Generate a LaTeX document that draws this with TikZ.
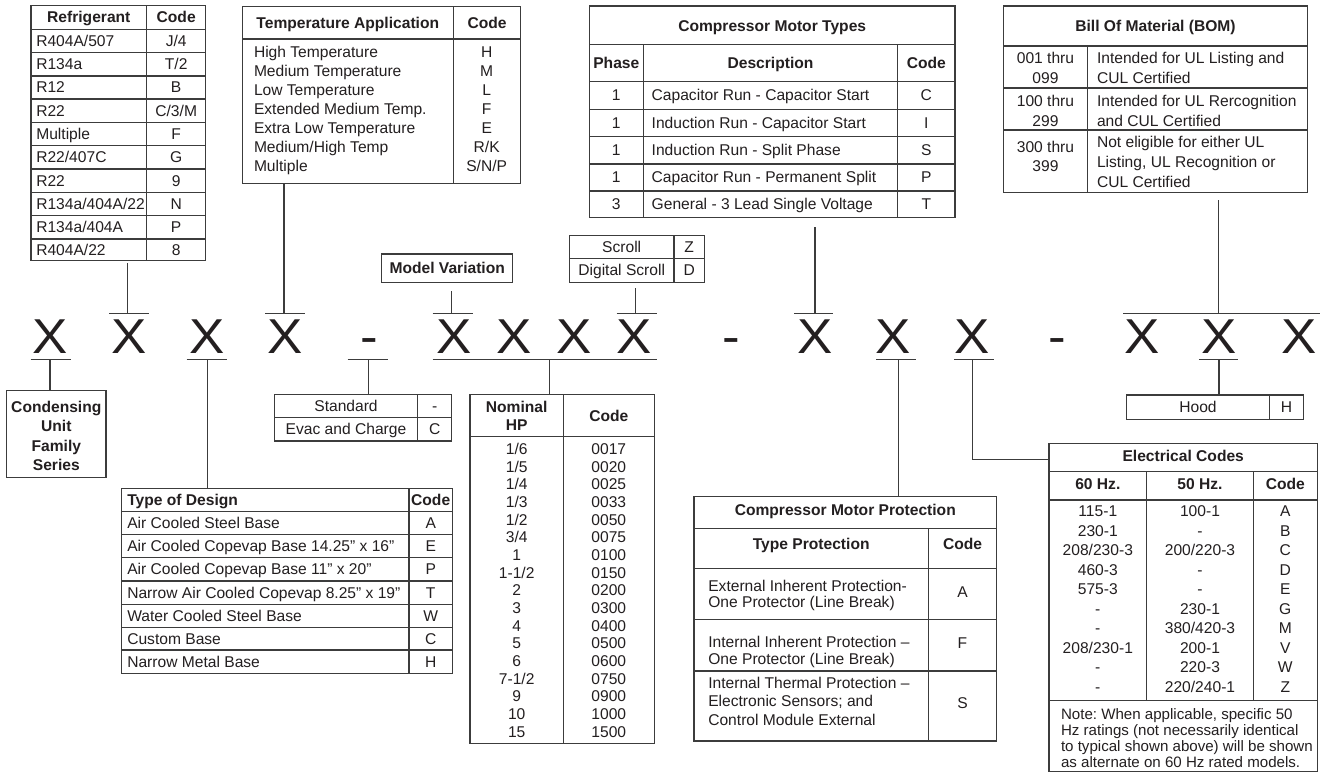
\documentclass[tikz,border=0pt]{standalone}
\usepackage{fontspec}
\setmainfont{Liberation Sans}
\newfontfamily\xfont[FakeStretch=1.08]{Liberation Sans}
\newcommand\fs{\fontsize{15.6}{17}\selectfont}
\newcommand\fn{\fontsize{15.1}{17}\selectfont}
\newcommand\fb{\fontsize{15.6}{17}\selectfont\bfseries}
\newcommand\fx{\xfont\fontsize{49}{49}\selectfont}
\definecolor{ink}{HTML}{231F20}
\definecolor{lc}{HTML}{3C3C3C}
\frenchspacing
\tikzset{
  ln/.style={draw=lc, line width=1.3pt},
  tbl/.style 2 args={ln, rectangle, inner sep=0pt, outer sep=0pt, minimum width=#1, minimum height=#2, anchor=north west},
  tx/.style={inner sep=0pt, outer sep=0pt, text=ink, font=\fs, anchor=base},
  txl/.style={tx, anchor=base west},
  ntx/.style={txl, font=\fn},
  bx/.style={tx, font=\fb},
  bxl/.style={bx, anchor=base west},
  xl/.style={inner sep=0pt, outer sep=0pt, text=ink, font=\fx, anchor=base},
}
\begin{document}
\begin{tikzpicture}[x=1pt,y=-1pt]
\useasboundingbox (0,0) rectangle (1323,783);
\fill[white] (0,0) rectangle (1323,783);

% ---------------- Refrigerant
\node[tbl={174.7pt}{255pt}] (ref) at (31,5.7) {};
\draw[ln] (146.7,5.7) -- (146.7,260.7);
\foreach \y in {29.3,52.3,76,99,122.3,145.7,169,192.3,215.7,239} \draw[ln] (31,\y) -- (205.7,\y);
\node[bx] (refh1) at (88.8,23) {Refrigerant};
\node[bx] (refh2) at (176.2,23) {Code};
\foreach \y/\a/\b [count=\i] in {46.3/{R404A/507}/{J/4}, 69.7/R134a/{T/2}, 93/R12/B, 116.2/R22/{C/3/M}, 139.5/Multiple/F, 162.8/{R22/407C}/G, 186.2/R22/9, 209.5/{R134a/404A/22}/N, 232.8/{R134a/404A}/P, 255.4/{R404A/22}/8}
  {\node[txl] (refa\i) at (36.3,\y) {\a}; \node[tx] (refb\i) at (176.2,\y) {\b};}

% ---------------- Temperature Application
\node[tbl={278.4pt}{176.6pt}] (temp) at (242.3,6.7) {};
\draw[ln] (453.3,6.7) -- (453.3,183.3);
\draw[ln] (242.3,39) -- (520.7,39);
\node[bx] (temph1) at (347.8,28.3) {Temperature Application};
\node[bx] (temph2) at (487,28.3) {Code};
\foreach \y/\a/\b [count=\i] in {57.8/High Temperature/H, 76.7/Medium Temperature/M, 95.6/Low Temperature/L, 114.5/Extended Medium Temp./F, 133.4/Extra Low Temperature/E, 152.3/{Medium/High Temp}/{R/K}, 171.2/Multiple/{S/N/P}}
  {\node[txl] (tempa\i) at (254,\y) {\a}; \node[tx] (tempb\i) at (486.7,\y) {\b};}

% ---------------- Compressor Motor Types
\node[tbl={365.7pt}{211.7pt}] (cmt) at (589.3,6) {};
\foreach \y in {44.3,81.7,109.3,136.7,164,191} \draw[ln] (589.3,\y) -- (955,\y);
\draw[ln] (643.3,44.3) -- (643.3,217.7);
\draw[ln] (897.7,44.3) -- (897.7,217.7);
\node[bx] (cmtt) at (772.2,31.5) {Compressor Motor Types};
\node[bx] (cmth1) at (616.3,68.5) {Phase};
\node[bx] (cmth2) at (770.5,68.5) {Description};
\node[bx] (cmth3) at (926.3,68.5) {Code};
\foreach \y/\p/\a/\b [count=\i] in {101/1/Capacitor Run - Capacitor Start/C, 128.5/1/Induction Run - Capacitor Start/I, 155.8/1/Induction Run - Split Phase/S, 183/1/Capacitor Run - Permanent Split/P, 209.8/3/General - 3 Lead Single Voltage/T}
  {\node[tx] (cmtp\i) at (616.3,\y) {\p}; \node[txl] (cmta\i) at (651.7,\y) {\a}; \node[tx] (cmtb\i) at (926.3,\y) {\b};}

% ---------------- Bill of Material
\node[tbl={304.4pt}{186.7pt}] (bom) at (1003.3,6) {};
\foreach \y in {46,88,130} \draw[ln] (1003.3,\y) -- (1307.7,\y);
\draw[ln] (1087.7,46) -- (1087.7,192.7);
\node[bx] (bomt) at (1155.5,31.5) {Bill Of Material (BOM)};
\node[tx] (boma1) at (1045.5,63.8) {001 thru};
\node[tx] (boma2) at (1045.5,83.8) {099};
\node[txl] (bomb1) at (1097,63.8) {Intended for UL Listing and};
\node[txl] (bomb2) at (1097,83.8) {CUL Certified};
\node[tx] (boma3) at (1045.5,106.5) {100 thru};
\node[tx] (boma4) at (1045.5,126.5) {299};
\node[txl] (bomb3) at (1097,106.5) {Intended for UL Rercognition};
\node[txl] (bomb4) at (1097,126.5) {and CUL Certified};
\node[tx] (boma5) at (1045.5,153) {300 thru};
\node[tx] (boma6) at (1045.5,172) {399};
\node[txl] (bomb5) at (1097,147.5) {Not eligible for either UL};
\node[txl] (bomb6) at (1097,167.5) {Listing, UL Recognition or};
\node[txl] (bomb7) at (1097,187.5) {CUL Certified};

% ---------------- Scroll
\node[tbl={135pt}{47pt}] (scroll) at (569.3,235.3) {};
\draw[ln] (569.3,258.3) -- (704.3,258.3);
\draw[ln] (674,235.3) -- (674,282.3);
\node[tx] (scra1) at (621.7,252.3) {Scroll};
\node[tx] (scrb1) at (689.2,252.3) {Z};
\node[tx] (scra2) at (621.7,275.8) {Digital Scroll};
\node[tx] (scrb2) at (689.2,275.8) {D};

% ---------------- Model Variation
\node[tbl={131pt}{28.3pt}] (mv) at (381.7,254) {};
\node[bx] (mvt) at (447.2,273.7) {Model Variation};

% ---------------- Condensing Unit
\node[tbl={99.3pt}{87pt}] (cond) at (6.7,390.7) {};
\foreach \y/\a [count=\i] in {412.2/Condensing, 431.5/Unit, 451.2/Family, 470.5/Series}
  {\node[bx] (cond\i) at (56.3,\y) {\a};}

% ---------------- Standard
\node[tbl={177.4pt}{46.7pt}] (std) at (274.3,394.3) {};
\draw[ln] (274.3,417.7) -- (451.7,417.7);
\draw[ln] (417.7,394.3) -- (417.7,441);
\node[tx] (stda1) at (346,411.5) {Standard};
\node[tx] (stdb1) at (434.7,411.5) {-};
\node[tx] (stda2) at (346,434.8) {Evac and Charge};
\node[tx] (stdb2) at (434.7,434.8) {C};

% ---------------- Type of Design
\node[tbl={330.6pt}{185pt}] (tod) at (121.7,488.3) {};
\draw[ln] (409,488.3) -- (409,673.3);
\foreach \y in {511.7,534.3,557.3,581,604.3,627.7,650} \draw[ln] (121.7,\y) -- (452.3,\y);
\node[bxl] (todh1) at (127.3,505.5) {Type of Design};
\node[bx] (todh2) at (430.7,505.5) {Code};
\foreach \y/\a/\b [count=\i] in {528.5/Air Cooled Steel Base/A, 551.3/Air Cooled Copevap Base 14.25” x 16”/E, 574.7/Air Cooled Copevap Base 11” x 20”/P, 598.2/Narrow Air Cooled Copevap 8.25” x 19”/T, 621.5/Water Cooled Steel Base/W, 644.4/Custom Base/C, 667.2/Narrow Metal Base/H}
  {\node[txl] (toda\i) at (127.3,\y) {\a}; \node[tx] (todb\i) at (430.7,\y) {\b};}

% ---------------- Nominal HP
\node[tbl={184.3pt}{349pt}] (hp) at (470,394.3) {};
\draw[ln] (563.3,394.3) -- (563.3,743.3);
\draw[ln] (470,436.7) -- (654.3,436.7);
\node[bx] (hph1) at (516.7,412.2) {Nominal};
\node[bx] (hph2) at (516.7,430.5) {HP};
\node[bx] (hph3) at (608.8,421.5) {Code};
\foreach \h/\c [count=\i from 0] in {{1/6}/0017, {1/5}/0020, {1/4}/0025, {1/3}/0033, {1/2}/0050, {3/4}/0075, 1/0100, {1-1/2}/0150, 2/0200, 3/0300, 4/0400, 5/0500, 6/0600, {7-1/2}/0750, 9/0900, 10/1000, 15/1500}
  {\node[tx] (hpa\i) at (516.7,454.5+17.67*\i) {\h}; \node[tx] (hpb\i) at (608.8,454.5+17.67*\i) {\c};}

% ---------------- Compressor Motor Protection
\node[tbl={302.7pt}{244.3pt}] (prot) at (694,496.7) {};
\foreach \y in {528.3,568.3,619.3,671} \draw[ln] (694,\y) -- (996.7,\y);
\draw[ln] (928.3,528.3) -- (928.3,741);
\node[bx] (prott) at (845.3,515) {Compressor Motor Protection};
\node[bx] (proth1) at (811.2,549.5) {Type Protection};
\node[bx] (proth2) at (962.5,549.5) {Code};
\node[txl] (prota1) at (708.3,591.5) {External Inherent Protection-};
\node[txl] (prota2) at (708.3,607.5) {One Protector (Line Break)};
\node[tx] (protb1) at (962.5,597) {A};
\node[txl] (prota3) at (708.3,647.5) {Internal Inherent Protection –};
\node[txl] (prota4) at (708.3,664) {One Protector (Line Break)};
\node[tx] (protb2) at (962.5,648) {F};
\node[txl] (prota5) at (708.3,688) {Internal Thermal Protection –};
\node[txl] (prota6) at (708.3,706.5) {Electronic Sensors; and};
\node[txl] (prota7) at (708.3,725) {Control Module External};
\node[tx] (protb3) at (962.5,708) {S};

% ---------------- Electrical Codes
\node[tbl={268.3pt}{328.4pt}] (elec) at (1049,443.3) {};
\foreach \y in {471.7,500,700.7} \draw[ln] (1049,\y) -- (1317.3,\y);
\draw[ln] (1146.7,471.7) -- (1146.7,700.7);
\draw[ln] (1253.3,471.7) -- (1253.3,700.7);
\node[bx] (elect) at (1183.2,461.5) {Electrical Codes};
\node[bx] (elech1) at (1097.8,489.8) {60 Hz.};
\node[bx] (elech2) at (1200,489.8) {50 Hz.};
\node[bx] (elech3) at (1285.3,489.8) {Code};
\foreach \a/\b/\c [count=\i from 0] in {115-1/100-1/A, 230-1/-/B, {208/230-3}/{200/220-3}/C, 460-3/-/D, 575-3/-/E, -/230-1/G, -/{380/420-3}/M, {208/230-1}/200-1/V, -/220-3/W, -/{220/240-1}/Z}
  {\node[tx] (eleca\i) at (1097.8,516.5+19.52*\i) {\a};
   \node[tx] (elecb\i) at (1200,516.5+19.52*\i) {\b};
   \node[tx] (elecc\i) at (1285.3,516.5+19.52*\i) {\c};}
\foreach \y/\a [count=\i] in {719.5/{Note: When applicable, specific 50}, 735.5/{Hz ratings (not necessarily identical}, 751.5/{to typical shown above) will be shown}, 767.5/{as alternate on 60 Hz rated models.}}
  {\node[ntx] (note\i) at (1061,\y) {\a};}

% ---------------- Hood
\node[tbl={177.1pt}{24.3pt}] (hood) at (1126.2,395) {};
\draw[ln] (1269.7,395) -- (1269.7,419.3);
\node[tx] (hooda) at (1198,412.7) {Hood};
\node[tx] (hoodb) at (1286.5,412.7) {H};

% ---------------- Model number letters
\node[xl] (x1) at (50.3,354) {X};
\node[xl] (x2) at (128.8,354) {X};
\node[xl] (x3) at (207,354) {X};
\node[xl] (x4) at (285.5,354) {X};
\node[xl] (d1) at (369.7,354) {-};
\node[xl] (x5) at (454,354) {X};
\node[xl] (x6) at (514,354) {X};
\node[xl] (x7) at (574,354) {X};
\node[xl] (x8) at (634,354) {X};
\node[xl] (d2) at (731,354) {-};
\node[xl] (x9) at (815,354) {X};
\node[xl] (x10) at (893.5,354) {X};
\node[xl] (x11) at (971.7,354) {X};
\node[xl] (d3) at (1057,354) {-};
\node[xl] (x12) at (1142.5,354) {X};
\node[xl] (x13) at (1219,354) {X};
\node[xl] (x14) at (1299,354) {X};

% ---------------- bars
\foreach \a/\b in {109/149, 265/305, 432.7/472.7, 616.7/656.7, 794/833.3, 1123/1319.7}
  \draw[ln] (\a,313.3) -- (\b,313.3);
\foreach \a/\b in {30.7/70.7, 186.7/226.7, 347.7/387.7, 432.7/656.7, 876/916, 954.3/994, 1198.8/1237.7}
  \draw[ln] (\a,359.7) -- (\b,359.7);

% ---------------- connectors
\coordinate (t2) at (127.3,313.3);
\coordinate (t4) at (284,313.3);
\coordinate (t5) at (451.7,313.3);
\coordinate (t8) at (635.7,313.3);
\coordinate (t9) at (815,313.3);
\coordinate (t13) at (1218.4,313.3);
\coordinate (b1) at (50,359.7);
\coordinate (b3) at (207.7,359.7);
\coordinate (bd) at (368.3,359.7);
\coordinate (b58) at (549.3,359.7);
\coordinate (b10) at (898.3,359.7);
\coordinate (b11) at (972.3,359.7);
\coordinate (b13) at (1219,359.7);
\coordinate (ek) at (972.3,459.3);

\draw[ln, shorten >=2.6pt] (t2) -- (t2 |- ref.south);
\draw[ln] (t4) -- (t4 |- temp.south);
\draw[ln, shorten >=8.4pt] (t5) -- (t5 |- mv.south);
\draw[ln, shorten >=6pt] (t8) -- (t8 |- scroll.south);
\draw[ln, shorten >=9pt] (t9) -- (t9 |- cmt.south);
\draw[ln, shorten >=7.3pt] (t13) -- (t13 |- bom.south);
\draw[ln] (b1) -- (b1 |- cond.north);
\draw[ln] (b3) -- (b3 |- tod.north);
\draw[ln] (bd) -- (bd |- std.north);
\draw[ln] (b58) -- (b58 |- hp.north);
\draw[ln] (b10) -- (b10 |- prot.north);
\draw[ln] (b11) -- (ek) -- (ek -| elec.west);
\draw[ln] (b13) -- (b13 |- hood.north);
\end{tikzpicture}
\end{document}
